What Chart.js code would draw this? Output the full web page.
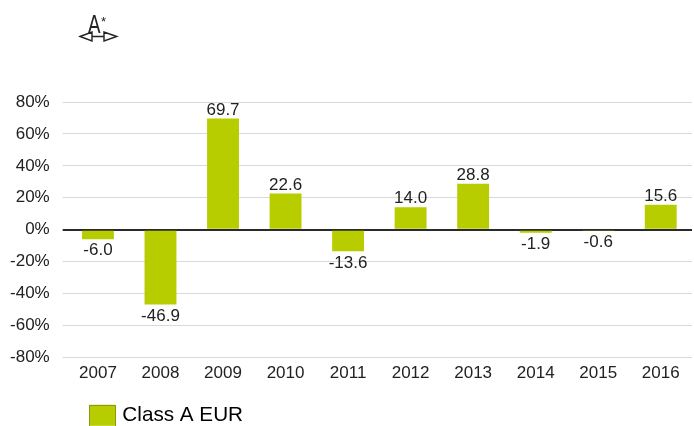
<!DOCTYPE html>
<html>
<head>
<meta charset="utf-8">
<style>
  html, body { margin: 0; padding: 0; background: #fff; overflow: hidden; }
  #chart { display: block; }
  #logo { position: absolute; left: 78px; top: 12px; width: 42px; height: 32px; }
  #logo span { position: absolute; left: 8px; top: -2px; font: 25px "Liberation Sans", sans-serif; color: #222; transform: scaleX(0.75); }
  #logo sup { position: absolute; left: 23px; top: 2px; font: 13px "Liberation Sans", sans-serif; color: #222; }
</style>
</head>
<body>
<canvas id="chart" width="694" height="426"></canvas>
<div id="logo">
  <span>A</span><sup>*</sup>
  <svg width="42" height="32" style="position:absolute;left:0;top:0">
    <path d="M2 24.5 L14 20 L14 29 Z M38.7 24.5 L26 20 L26 29 Z M14 24.5 L26 24.5" fill="#fff" stroke="#222" stroke-width="1.4"/>
  </svg>
</div>
<script src="https://cdn.jsdelivr.net/npm/chart.js@4/dist/chart.umd.min.js"></script>
<script>
const years = ['2007', '2008', '2009', '2010', '2011', '2012', '2013', '2014', '2015', '2016'];
const classA = [-6.0, -46.9, 69.7, 22.6, -13.6, 14.0, 28.8, -1.9, -0.6, 15.6];
const seriesName = 'Class A EUR';
const barColor = '#b7cd00';
const textColor = '#222222';

// value labels above/below each bar
const barLabels = {
  id: 'barLabels',
  afterDatasetsDraw(chart) {
    const ctx = chart.ctx;
    const meta = chart.getDatasetMeta(0);
    ctx.save();
    ctx.font = '17px "Liberation Sans", sans-serif';
    ctx.fillStyle = textColor;
    ctx.textAlign = 'center';
    meta.data.forEach((bar, i) => {
      const v = classA[i];
      ctx.textBaseline = v < 0 ? 'top' : 'bottom';
      ctx.fillText(v.toFixed(1), bar.x, v < 0 ? bar.y + 3 : bar.y);
    });
    ctx.restore();
  }
};

// put the legend where the original has it, half cut off by the page bottom
const moveLegend = {
  id: 'moveLegend',
  afterLayout(chart) {
    chart.legend.left = 89;
    chart.legend.top = 402;
  },
  afterDraw(chart) {
    const ctx = chart.ctx;
    ctx.save();
    ctx.strokeStyle = '#8a9a10';
    ctx.lineWidth = 1;
    ctx.strokeRect(89.5, 405.5, 26, 21);
    ctx.restore();
  }
};

new Chart(document.getElementById('chart'), {
  type: 'bar',
  data: {
    labels: years,
    datasets: [{
      label: seriesName,
      data: classA,
      backgroundColor: barColor,
      borderWidth: 0,
      barPercentage: 0.51,
      categoryPercentage: 1
    }]
  },
  plugins: [barLabels, moveLegend],
  options: {
    responsive: false,
    animation: false,
    layout: { padding: { top: 102, right: 2, bottom: 0, left: 0 } },
    plugins: {
      tooltip: { enabled: false },
      legend: {
        position: 'bottom',
        align: 'start',
        labels: {
          boxWidth: 20,
          boxHeight: 15,
          padding: 3,
          color: textColor,
          font: { family: '"Liberation Sans", sans-serif', size: 20.7 },
          generateLabels: () => [{
            text: seriesName,
            fillStyle: barColor,
            strokeStyle: barColor,
            lineWidth: 6
          }]
        }
      }
    },
    scales: {
      x: {
        grid: { display: false },
        border: { display: false },
        ticks: {
          color: textColor,
          maxRotation: 0,
          padding: -2,
          font: { family: '"Liberation Sans", sans-serif', size: 17 }
        },
        afterFit(scale) { scale.height = 35; }
      },
      y: {
        min: -80,
        max: 80,
        afterFit(scale) { scale.width = 66.7; },
        border: { display: false },
        grid: {
          tickLength: 4,
          color: ctx => ctx.tick && ctx.tick.value === 0 ? '#2a2a2a' : '#d9d9d9',
          lineWidth: ctx => ctx.tick && ctx.tick.value === 0 ? 2 : 1
        },
        ticks: {
          stepSize: 20,
          color: textColor,
          padding: 13,
          callback: v => v + '%',
          font: { family: '"Liberation Sans", sans-serif', size: 17 }
        }
      }
    }
  }
});
</script>
</body>
</html>
